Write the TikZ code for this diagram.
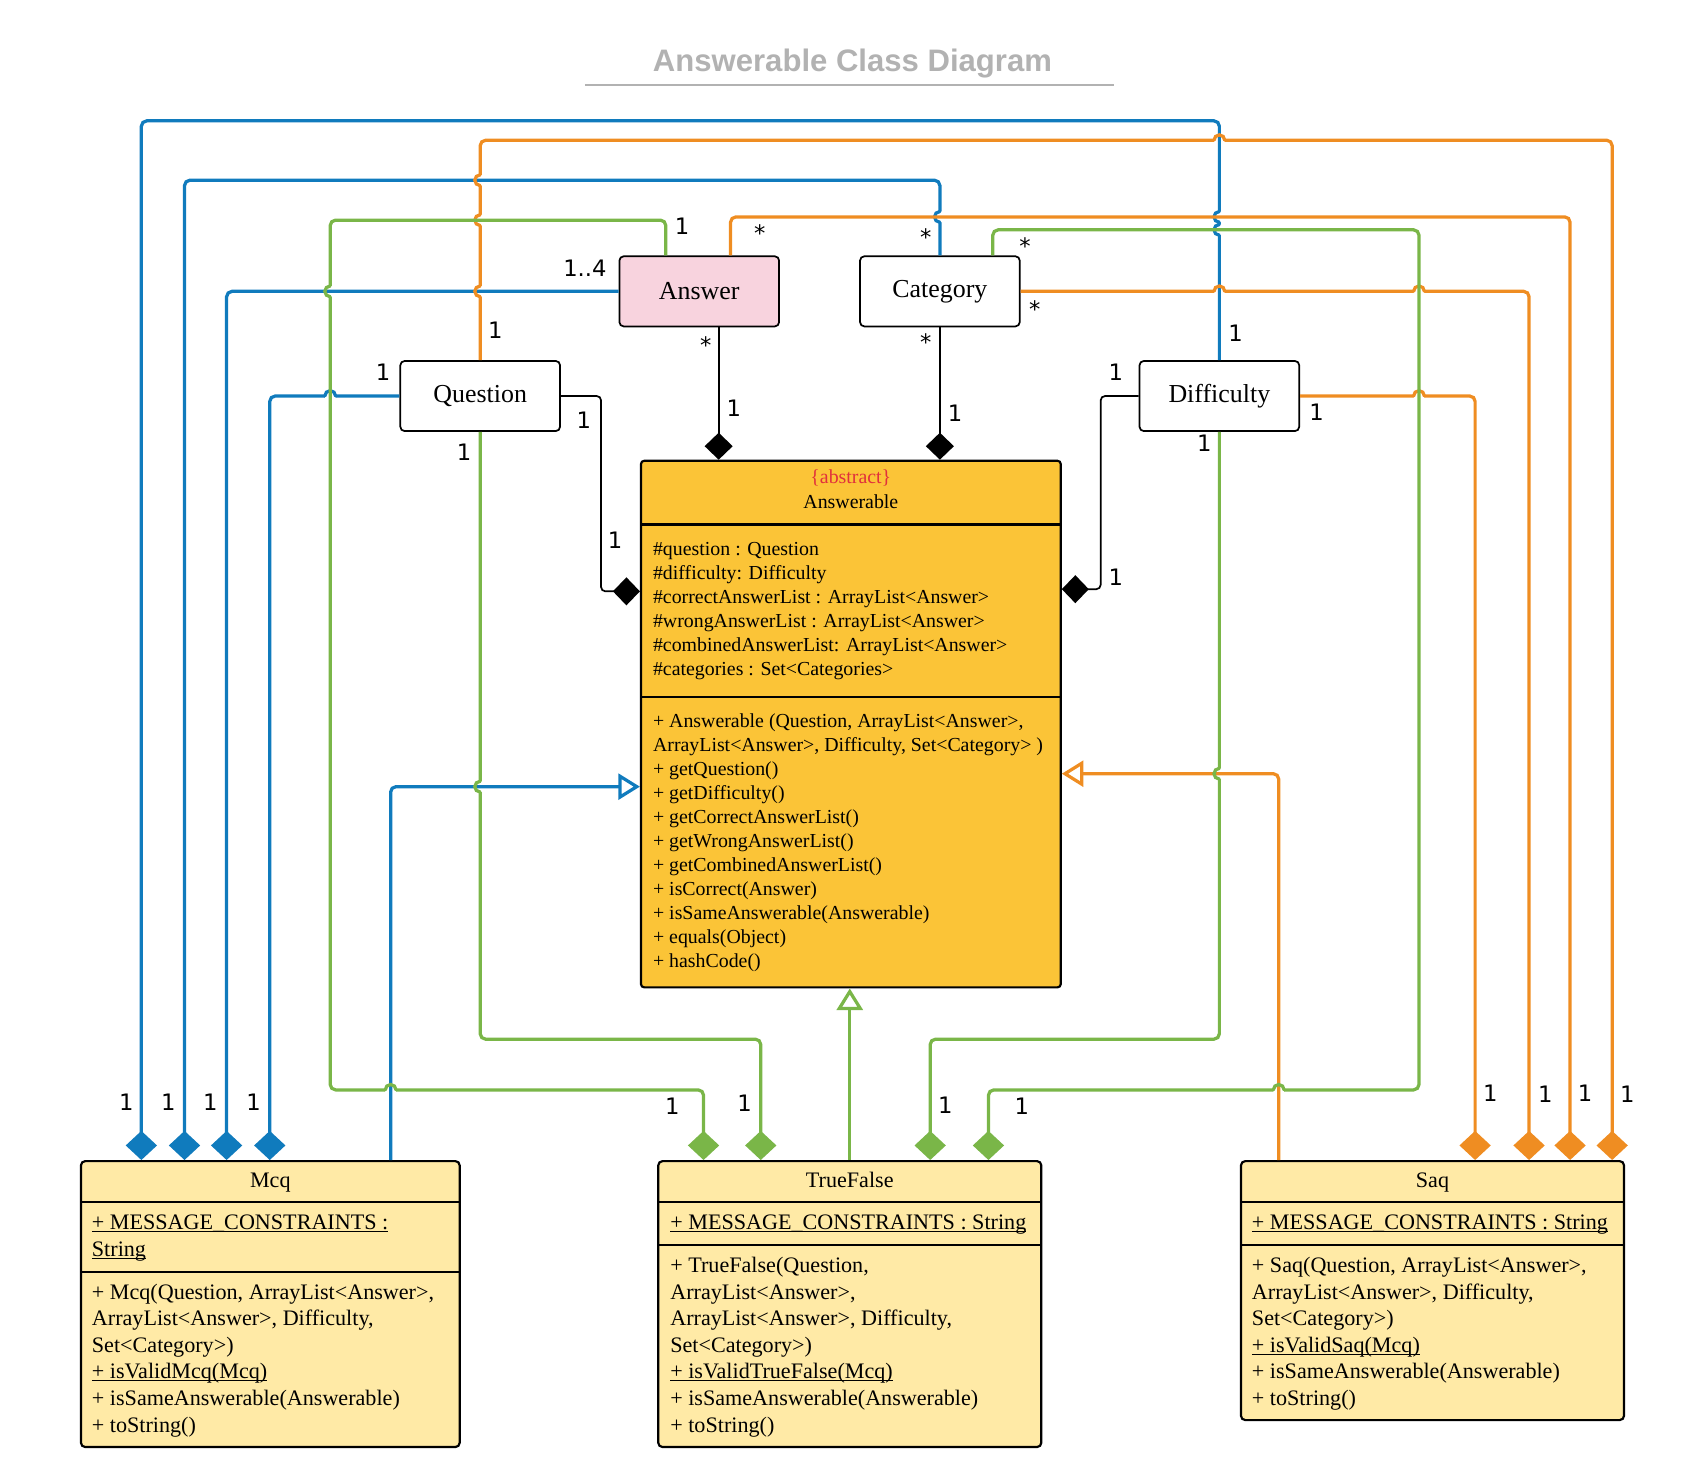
\documentclass[tikz,border=0pt]{standalone}
\usepackage{fontspec}
\setmainfont{Liberation Serif}
\setsansfont{Liberation Sans}
\newfontfamily\multfont{DejaVu Sans}
\usetikzlibrary{positioning, arrows.meta}

\definecolor{umlblue}{RGB}{16,123,189}
\definecolor{umlorange}{RGB}{239,141,34}
\definecolor{umlgreen}{RGB}{122,182,72}
\definecolor{absfill}{RGB}{251,196,55}
\definecolor{subfill}{RGB}{255,234,166}
\definecolor{pinkfill}{RGB}{248,211,222}
\definecolor{titlegray}{RGB}{178,178,178}
\definecolor{absred}{RGB}{225,48,60}

\newcommand{\staticul}[1]{\underline{\smash{#1}}}

\begin{document}
\begin{tikzpicture}[x=1pt, y=-1pt,
    every node/.style={inner sep=0pt},
    con/.style={line width=3pt, rounded corners=5pt},
    bluecon/.style={con, draw=umlblue},
    orangecon/.style={con, draw=umlorange},
    greencon/.style={con, draw=umlgreen},
    blackcon/.style={line width=1.6pt, rounded corners=4pt},
    comp/.style={arrows={-Diamond[length=27pt, width=29pt]}},
    bcomp/.style={arrows={-Diamond[length=25pt, width=26pt]}},
    gen/.style={arrows={-Triangle[open, length=20pt, width=24pt]}},
    hop/.style={line cap=round},
    mult/.style={font=\fontsize{21}{25}\selectfont\multfont},
    smallbox/.style={draw, line width=1.6pt, rounded corners=4pt, minimum width=148pt, minimum height=65pt, font=\fontsize{24}{28}\selectfont},
    absbox/.style={draw, line width=2pt, rounded corners=3pt, fill=absfill},
    subbox/.style={draw, line width=2pt, rounded corners=4pt, fill=subfill},
    abstext/.style={align=left, font=\fontsize{18.4}{22.2}\selectfont},
    subtext/.style={align=left, font=\fontsize{20.5}{24.7}\selectfont}]
\useasboundingbox (0,0) rectangle (1568,1372);

\node[font=\fontsize{28.8}{32}\sffamily\bfseries, text=titlegray] (title) at (790,59) {Answerable Class Diagram};
\draw[titlegray, line width=1.5pt] (542,79) -- (1032,79);

\node[smallbox, fill=pinkfill] (ans) at (648,270) {Answer};
\node[smallbox] (cat) at (871,270) {Category};
\node[smallbox] (qn) at (445,367) {Question};
\node[smallbox] (diff) at (1130,367) {Difficulty};

\node[absbox, minimum width=389pt, minimum height=488pt] (answ) at (788.5,671) {};
\draw[line width=2pt] (594,486) -- (983,486) (594,646) -- (983,646);
\node[abstext, text=absred, anchor=base] (answ-s) at (788.5,448) {\{abstract\}};
\node[abstext, anchor=base] (answ-t) at (788.5,471) {Answerable};
\node[abstext, anchor=north west] (answ-a) at (605,499.5) {\strut\#question : Question\\\#difficulty: Difficulty\\\#correctAnswerList : ArrayList<Answer>\\\#wrongAnswerList : ArrayList<Answer>\\\#combinedAnswerList: ArrayList<Answer>\\\#categories : Set<Categories>};
\node[abstext, anchor=north west] (answ-m) at (605,658.5) {\strut + Answerable (Question, ArrayList<Answer>,\\ArrayList<Answer>, Difficulty, Set<Category> )\\+ getQuestion()\\+ getDifficulty()\\+ getCorrectAnswerList()\\+ getWrongAnswerList()\\+ getCombinedAnswerList()\\+ isCorrect(Answer)\\+ isSameAnswerable(Answerable)\\+ equals(Object)\\+ hashCode()};

\node[subbox, minimum width=351pt, minimum height=265pt] (mcq) at (250.5,1208.5) {};
\draw[line width=2pt] (75,1114) -- (426,1114) (75,1179) -- (426,1179);
\node[subtext, anchor=base] (mcq-t) at (250.5,1100) {Mcq};
\node[subtext, anchor=north west] (mcq-a) at (85,1122) {\strut\staticul{+ MESSAGE\_CONSTRAINTS :}\\\staticul{String}};
\node[subtext, anchor=north west] (mcq-m) at (85,1186.3) {\strut + Mcq(Question, ArrayList<Answer>,\\ArrayList<Answer>, Difficulty,\\Set<Category>)\\\staticul{+ isValidMcq(Mcq)}\\+ isSameAnswerable(Answerable)\\+ toString()};

\node[subbox, minimum width=355pt, minimum height=265pt] (tf) at (787.5,1208.5) {};
\draw[line width=2pt] (610,1114) -- (965,1114) (610,1154) -- (965,1154);
\node[subtext, anchor=base] (tf-t) at (787.5,1100) {TrueFalse};
\node[subtext, anchor=north west] (tf-a) at (621,1122) {\strut\staticul{+ MESSAGE\_CONSTRAINTS : String}};
\node[subtext, anchor=north west] (tf-m) at (621,1161.6) {\strut + TrueFalse(Question,\\ArrayList<Answer>,\\ArrayList<Answer>, Difficulty,\\Set<Category>)\\\staticul{+ isValidTrueFalse(Mcq)}\\+ isSameAnswerable(Answerable)\\+ toString()};

\node[subbox, minimum width=355pt, minimum height=240pt] (saq) at (1327.5,1196) {};
\draw[line width=2pt] (1150,1114) -- (1505,1114) (1150,1154) -- (1505,1154);
\node[subtext, anchor=base] (saq-t) at (1327.5,1100) {Saq};
\node[subtext, anchor=north west] (saq-a) at (1160,1122) {\strut\staticul{+ MESSAGE\_CONSTRAINTS : String}};
\node[subtext, anchor=north west] (saq-m) at (1160,1161.6) {\strut + Saq(Question, ArrayList<Answer>,\\ArrayList<Answer>, Difficulty,\\Set<Category>)\\\staticul{+ isValidSaq(Mcq)}\\+ isSameAnswerable(Answerable)\\+ toString()};

\coordinate (ans-k) at ([xshift=18pt]ans.south);
\coordinate (ans-g) at ([xshift=-31pt]ans.north);
\coordinate (ans-o) at ([xshift=29pt]ans.north);
\coordinate (cat-g) at ([xshift=49pt]cat.north);
\coordinate (answ-l) at ([yshift=-58pt]answ.west);
\coordinate (answ-r) at ([yshift=-46pt]answ.east);
\coordinate (answ-ql) at ([yshift=123pt]answ.west);
\coordinate (answ-dr) at ([yshift=125pt]answ.east);
\coordinate (mcq-1) at ([xshift=-119.5pt]mcq.north);
\coordinate (mcq-2) at ([xshift=-79.5pt]mcq.north);
\coordinate (mcq-3) at ([xshift=-40.5pt]mcq.north);
\coordinate (mcq-4) at ([xshift=-0.5pt]mcq.north);
\coordinate (mcq-g) at ([xshift=111.5pt]mcq.north);
\coordinate (tf-1) at ([xshift=-135.5pt]tf.north);
\coordinate (tf-2) at ([xshift=-82.5pt]tf.north);
\coordinate (tf-3) at ([xshift=74.5pt]tf.north);
\coordinate (tf-4) at ([xshift=128.5pt]tf.north);
\coordinate (saq-1) at ([xshift=39.5pt]saq.north);
\coordinate (saq-2) at ([xshift=89.5pt]saq.north);
\coordinate (saq-3) at ([xshift=127.5pt]saq.north);
\coordinate (saq-4) at ([xshift=166.5pt]saq.north);
\coordinate (saq-g) at ([xshift=-142.5pt]saq.north);

\draw[blackcon, bcomp] (ans-k) -- (ans-k |- answ.north);
\draw[blackcon, bcomp] (cat.south) -- (cat.south |- answ.north);
\draw[blackcon, bcomp] (qn.east) -- (557,367) |- (answ-ql);
\draw[blackcon, bcomp] (diff.west) -- (1020,367) |- (answ-dr);

\draw[bluecon, comp] (diff.north) -- (1130,218) (1130,208) -- (1130,206) (1130,196) -- (1130,112) -- (131,112) -- (mcq-1);
\draw[bluecon, comp] (cat.north) -- (871,206) (871,196) -- (871,167) -- (171,167) -- (mcq-2);
\draw[bluecon, comp] (ans.west) -| (mcq-3);
\draw[bluecon, comp] (qn.west) -- (311,367) (301,367) -- (250,367) -- (mcq-4);
\draw[bluecon, gen] (mcq-g) |- (answ-l);
\draw[bluecon, hop] (1130,206) arc[start angle=90, end angle=270, radius=5]
  (1130,218) arc[start angle=90, end angle=270, radius=5]
  (871,206) arc[start angle=90, end angle=270, radius=5]
  (301,367) arc[start angle=180, end angle=360, radius=5];

\draw[orangecon, comp] (qn.north) -- (445,275) (445,265) -- (445,209) (445,199) -- (445,172) (445,162) -- (445,130) -- (1125,130) (1135,130) -- (1494,130) -- (saq-4);
\draw[orangecon, comp] (ans-o) |- (1455,201) -- (saq-3);
\draw[orangecon, comp] (cat.east) -- (1125,270) (1135,270) -- (1310,270) (1320,270) -- (1417,270) -- (saq-2);
\draw[orangecon, comp] (diff.east) -- (1310,367) (1320,367) -- (1367,367) -- (saq-1);
\draw[orangecon, gen] (saq-g) |- (answ-r);
\draw[orangecon, hop] (1125,130) arc[start angle=180, end angle=360, radius=5]
  (1310,270) arc[start angle=180, end angle=360, radius=5]
  (1125,270) arc[start angle=180, end angle=360, radius=5]
  (1310,367) arc[start angle=180, end angle=360, radius=5]
  (445,172) arc[start angle=90, end angle=270, radius=5]
  (445,209) arc[start angle=90, end angle=270, radius=5]
  (445,275) arc[start angle=90, end angle=270, radius=5];

\draw[greencon, comp] (ans-g) -- (617,204) -- (306,204) -- (306,265) (306,275) -- (306,1010) -- (357,1010) (367,1010) -- (652,1010) -- (tf-1);
\draw[greencon, comp] (qn.south) -- (445,724) (445,734) -- (445,963) -- (705,963) -- (tf-2);
\draw[greencon, comp] (diff.south) -- (1130,712) (1130,722) -- (1130,963) -- (862,963) -- (tf-3);
\draw[greencon, comp] (cat-g) -- (920,213) -- (1315,213) -- (1315,1010) -- (1190,1010) (1180,1010) -- (916,1010) -- (tf-4);
\draw[greencon, gen] (tf.north) -- (tf.north |- answ.south);
\draw[greencon, hop] (357,1010) arc[start angle=180, end angle=360, radius=5]
  (1180,1010) arc[start angle=180, end angle=360, radius=5]
  (306,275) arc[start angle=90, end angle=270, radius=5]
  (445,734) arc[start angle=90, end angle=270, radius=5]
  (1130,722) arc[start angle=90, end angle=270, radius=5];

\node[mult] (m-ag) at (632,210) {1};
\node[mult] (m-ao) at (704,216) {*};
\node[mult] (m-ab) at (542,249) {1..4};
\node[mult] (m-cb) at (858,219.5) {*};
\node[mult] (m-cg) at (950,228.5) {*};
\node[mult] (m-co) at (959,286.5) {*};
\node[mult] (m-qo) at (459,306) {1};
\node[mult] (m-qb) at (355,345) {1};
\node[mult] (m-db) at (1145,309) {1};
\node[mult] (m-dk) at (1034,345) {1};
\node[mult] (m-ak) at (654,319.5) {*};
\node[mult] (m-ck) at (858,317) {*};
\node[mult] (m-qk) at (541,389) {1};
\node[mult] (m-qg) at (430,419) {1};
\node[mult] (m-do) at (1220,382) {1};
\node[mult] (m-dg) at (1116,411) {1};
\node[mult] (m-wa) at (680,378) {1};
\node[mult] (m-wc) at (885,383) {1};
\node[mult] (m-wq) at (570,501) {1};
\node[mult] (m-wd) at (1034,535) {1};
\node[mult] (m-m1) at (117,1021) {1};
\node[mult] (m-m2) at (156,1021) {1};
\node[mult] (m-m3) at (195,1021) {1};
\node[mult] (m-m4) at (235,1021) {1};
\node[mult] (m-t1) at (623,1025) {1};
\node[mult] (m-t2) at (690,1022) {1};
\node[mult] (m-t3) at (876,1024) {1};
\node[mult] (m-t4) at (947,1025) {1};
\node[mult] (m-s1) at (1381,1013) {1};
\node[mult] (m-s2) at (1432,1014) {1};
\node[mult] (m-s3) at (1469,1013) {1};
\node[mult] (m-s4) at (1508,1014) {1};
\end{tikzpicture}
\end{document}
